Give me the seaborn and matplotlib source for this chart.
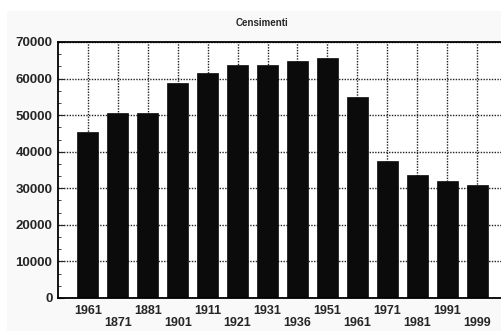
import matplotlib
matplotlib.use("Agg")
import matplotlib.pyplot as plt
from matplotlib.patches import Rectangle
from matplotlib.ticker import AutoMinorLocator, MultipleLocator
from matplotlib import font_manager as fm
import seaborn as sns
import pandas as pd

years = ["1961", "1871", "1881", "1901", "1911", "1921", "1931",
         "1936", "1951", "1961", "1971", "1981", "1991", "1999"]
population = [45400, 50700, 50500, 58800, 61500, 63600, 63800,
              64800, 65600, 55000, 37500, 33600, 32000, 30900]
title = "Censimenti"

df = pd.DataFrame({"slot": list(range(len(years))), "pop": population})

sns.set_style("white")
plt.rcParams["font.family"] = ["Liberation Sans", "DejaVu Sans"]

# pick the regular-width bold Liberation Sans file explicitly
bold_path = None
for f in fm.fontManager.ttflist:
    if f.name == "Liberation Sans" and "Narrow" not in f.fname and \
            "Bold" in f.fname and "Italic" not in f.fname:
        bold_path = f.fname
        break
if bold_path:
    fp = lambda s: fm.FontProperties(fname=bold_path, size=s)
else:
    fp = lambda s: fm.FontProperties(family="DejaVu Sans", weight="bold", size=s)

fig = plt.figure(figsize=(5.02, 3.31), dpi=100)
fig.patch.set_facecolor("white")
fig.add_artist(Rectangle((7 / 502, 0), 1, (331 - 11) / 331,
                         transform=fig.transFigure, facecolor="#f9f9f9",
                         edgecolor="none", zorder=-10))

ax = fig.add_axes([58 / 502, 1 - 298 / 331, 1 - 58 / 502 + 0.01, (298 - 42) / 331])
ax.set_facecolor("white")

sns.barplot(data=df, x="slot", y="pop", color="#0b0b0b", width=0.7,
            saturation=1, ax=ax, edgecolor="#0b0b0b", linewidth=0.5)

ax.set_ylim(0, 70000)
ax.set_xlim(-1.0, 14.0)
ax.yaxis.set_major_locator(MultipleLocator(10000))
ax.yaxis.set_minor_locator(AutoMinorLocator(3))
ax.set_axisbelow(True)
ax.grid(True, which="major", color="#222222", linestyle=(0, (1, 1)), linewidth=1.0)

labels = [y if i % 2 == 0 else "\n" + y for i, y in enumerate(years)]
ax.set_xticks(range(len(years)))
ax.set_xticklabels(labels, fontproperties=fp(9), linespacing=1.05)
ax.set_yticks(range(0, 70001, 10000))
ax.set_yticklabels([str(v) for v in range(0, 70001, 10000)], fontproperties=fp(9.5))
ax.tick_params(axis="x", length=0, pad=5)
ax.tick_params(axis="y", which="major", direction="in", length=4, pad=4, left=True)
ax.tick_params(axis="y", which="minor", direction="in", length=2, left=True)
ax.set_xlabel("")
ax.set_ylabel("")

for s in ["left", "top", "bottom"]:
    ax.spines[s].set_visible(True)
    ax.spines[s].set_color("black")
    ax.spines[s].set_linewidth(1.3)
ax.spines["right"].set_visible(False)

fig.text(262 / 502, 1 - 23 / 331, title, ha="center", va="center",
         fontproperties=fp(7))

fig.savefig("out.png", dpi=100)
